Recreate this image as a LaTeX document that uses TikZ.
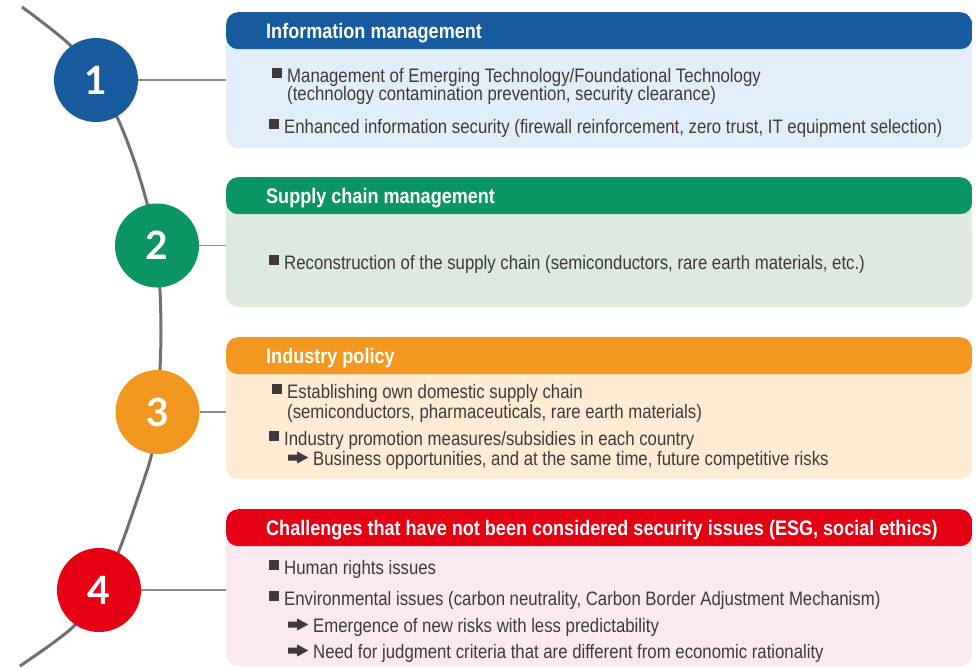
\documentclass[tikz,border=0pt]{standalone}
\usepackage{fontspec}
\setmainfont[FakeStretch=0.86]{Liberation Sans}
\newfontfamily\numfont{Lato}
\definecolor{hblue}{RGB}{24,90,158}
\definecolor{bblue}{RGB}{225,238,249}
\definecolor{hgreen}{RGB}{10,149,98}
\definecolor{bgreen}{RGB}{222,233,224}
\definecolor{horange}{RGB}{242,152,33}
\definecolor{borange}{RGB}{253,235,212}
\definecolor{hred}{RGB}{230,0,19}
\definecolor{bred}{RGB}{251,233,241}
\definecolor{txt}{RGB}{62,58,57}
\definecolor{linkgray}{RGB}{138,138,138}
\definecolor{spinegray}{RGB}{112,112,112}
\newcommand\sqbul{\raisebox{0.2em}{\rule{0.51em}{0.51em}}\hspace{0.26em}}
\newcommand\rarr{\tikz[x=1pt,y=1pt,baseline=0pt]\fill[txt] (0,4.5) -- (9,4.5) -- (9,1.5)
  -- (20,7.5) -- (9,13.5) -- (9,10.5) -- (0,10.5) -- cycle;\hspace{5pt}}
\tikzset{
  stage/.style={circle, fill=#1, minimum size=84pt, inner sep=0pt, text=white,
    font=\numfont\fontsize{39}{39}\selectfont\bfseries},
  panel/.style 2 args={rounded corners=12pt, fill=#2, anchor=north west,
    minimum width=746pt, inner sep=0pt,
    path picture={\fill[#1] (path picture bounding box.north west)
      rectangle ([yshift=-37pt]path picture bounding box.north east);}},
  head/.style={anchor=base west, inner sep=0pt, text=white,
    font=\fontsize{21}{21}\selectfont\bfseries},
  item/.style={anchor=base west, inner sep=0pt, text=txt,
    font=\fontsize{19.5}{19.5}\selectfont},
  link/.style={draw=linkgray, line width=1.5pt},
  spine/.style={draw=spinegray, line width=3pt},
}

\begin{document}
\begin{tikzpicture}[x=1pt, y=-1pt]
  \useasboundingbox (0,0) rectangle (980,667);
  \coordinate (p1) at (96,80);    \coordinate (p2) at (157,245.5);
  \coordinate (p3) at (157.5,412); \coordinate (p4) at (99,590);
  % spine behind the numbers
  \draw[spine] plot[smooth, tension=0.55] coordinates {(22,7) (70,45) (p1) (117,117)
    (134,160) (147,203) (p2) (161,330) (p3) (152,453) (137,500) (118,553) (p4)
    (73,627) (20,666)};
  % panels
  \node[panel={hblue}{bblue},     minimum height=136pt] (b1) at (226,12)  {};
  \node[panel={hgreen}{bgreen},   minimum height=130pt] (b2) at (226,177) {};
  \node[panel={horange}{borange}, minimum height=142pt] (b3) at (226,337) {};
  \node[panel={hred}{bred},       minimum height=157pt] (b4) at (226,509) {};
  % numbers
  \node[stage=hblue]   (c1) at (p1) {1};
  \node[stage=hgreen]  (c2) at (p2) {2};
  \node[stage=horange] (c3) at (p3) {3};
  \node[stage=hred]    (c4) at (p4) {4};
  \foreach \i in {1,...,4}{\draw[link] (c\i) -- (c\i -| b\i.west);}
  % headings
  \node[head] (h1) at (266,38.5)  {Information management};
  \node[head] (h2) at (266,203.5) {Supply chain management};
  \node[head] (h3) at (266,363.5) {Industry policy};
  \node[head] (h4) at (266,535.5) {Challenges that have not been considered security issues (ESG, social ethics)};
  % items
  \node[item] (t1a) at (272,82)  {\sqbul Management of Emerging Technology/Foundational Technology};
  \node[item] (t1b) at (287,100) {(technology contamination prevention, security clearance)};
  \node[item] (t1c) at (269,133) {\sqbul Enhanced information security (firewall reinforcement, zero trust, IT equipment selection)};
  \node[item] (t2a) at (269,269) {\sqbul Reconstruction of the supply chain (semiconductors, rare earth materials, etc.)};
  \node[item] (t3a) at (272,398) {\sqbul Establishing own domestic supply chain};
  \node[item] (t3b) at (287,418) {(semiconductors, pharmaceuticals, rare earth materials)};
  \node[item] (t3c) at (269,445) {\sqbul Industry promotion measures/subsidies in each country};
  \node[item] (t3d) at (288,465) {\rarr Business opportunities, and at the same time, future competitive risks};
  \node[item] (t4a) at (269,574) {\sqbul Human rights issues};
  \node[item] (t4b) at (269,605) {\sqbul Environmental issues (carbon neutrality, Carbon Border Adjustment Mechanism)};
  \node[item] (t4c) at (288,632) {\rarr Emergence of new risks with less predictability};
  \node[item] (t4d) at (288,658) {\rarr Need for judgment criteria that are different from economic rationality};
\end{tikzpicture}
\end{document}
